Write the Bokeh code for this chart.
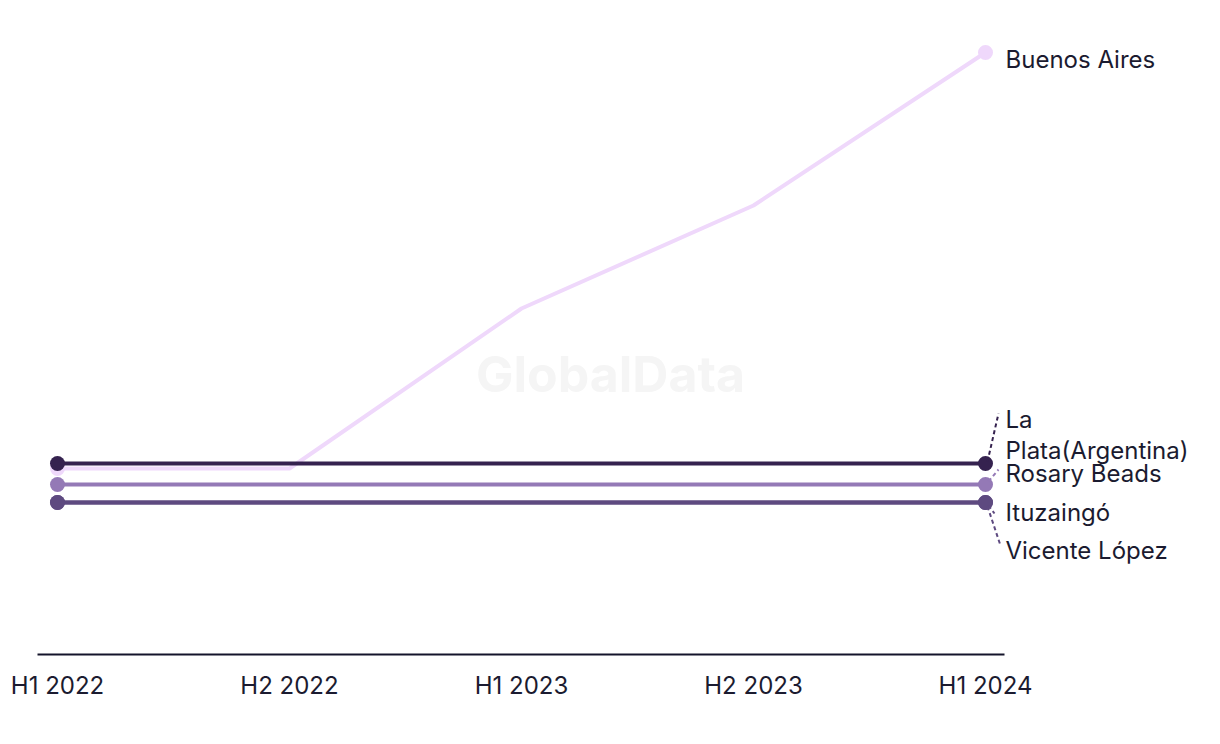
from bokeh.plotting import figure
from bokeh.models import Range1d, FixedTicker, Label
from bokeh.embed import file_html
from bokeh.resources import INLINE

periods = ["H1 2022", "H2 2022", "H1 2023", "H2 2023", "H1 2024"]
buenos_aires = [18.6, 18.6, 34.6, 44.9, 60.2]
la_plata = [19.1, 19.1, 19.1, 19.1, 19.1]
rosary_beads = [17.0, 17.0, 17.0, 17.0, 17.0]
ituzaingo = [15.2, 15.2, 15.2, 15.2, 15.2]
vicente_lopez = [15.2, 15.2, 15.2, 15.2, 15.2]

series = [
    ("Buenos Aires", buenos_aires, "#EFD8FB"),
    ("Vicente López", vicente_lopez, "#5E4A80"),
    ("Ituzaingó", ituzaingo, "#5E4A80"),
    ("Rosary Beads", rosary_beads, "#9479B6"),
    ("La\nPlata(Argentina)", la_plata, "#35224F"),
]

FONT = "Inter"
TXT = "#1B1B30"
XS = 232.0   # px per x unit
YS = 10.0    # px per y unit
X0 = -20 / XS

p = figure(width=1220, height=744, output_backend="svg", toolbar_location=None,
           x_range=Range1d(X0, X0 + 1183 / XS), y_range=Range1d(0, 63.4),
           min_border_left=37, min_border_right=0, min_border_top=20, min_border_bottom=90)
p.outline_line_color = None
p.grid.visible = False
p.yaxis.visible = False
p.background_fill_color = "white"
p.border_fill_color = "white"

xs = list(range(len(periods)))
xa = p.xaxis[0]
xa.ticker = FixedTicker(ticks=xs)
xa.bounds = (X0, X0 + 967 / XS)
xa.major_label_overrides = {i: s for i, s in enumerate(periods)}
xa.axis_line_color = "#14142B"
xa.axis_line_width = 2
xa.major_tick_line_color = None
xa.minor_tick_line_color = None
xa.major_tick_out = 0
xa.major_tick_in = 0
xa.major_label_standoff = 16
xa.major_label_text_font = FONT
xa.major_label_text_font_size = "24px"
xa.major_label_text_color = TXT

# watermark
p.add_layout(Label(x=2 + 89 / XS, y=28.1, text="GlobalData", text_align="center",
                   text_baseline="middle", text_font=FONT, text_font_style="bold",
                   text_font_size="50px", text_color="#F5F5F5"))

for name, vals, col in series:
    p.line(xs, vals, line_color=col, line_width=4)
    p.scatter(xs[::len(xs) - 1], [vals[0], vals[-1]], size=15, fill_color=col, line_color=None)

last = xs[-1]

def seg(v, dx0, dy0, dx1, dy1, col):
    p.segment(x0=[last + dx0 / XS], y0=[v - dy0 / YS], x1=[last + dx1 / XS], y1=[v - dy1 / YS],
              line_color=col, line_width=2, line_dash="4 3")

seg(la_plata[-1], 2, -2, 13, -50, "#35224F")
seg(rosary_beads[-1], 3, -3, 13, -15, "#9479B6")
seg(ituzaingo[-1], 3, 3, 9, 11, "#5E4A80")
seg(vicente_lopez[-1], 2, 4, 15, 43, "#5E4A80")

label_offsets = {
    "Buenos Aires": -6.5,
    "La\nPlata(Argentina)": 28.5,
    "Rosary Beads": 11.5,
    "Ituzaingó": -9.5,
    "Vicente López": -47.5,
}
for name, vals, col in series:
    p.add_layout(Label(x=last, y=vals[-1], x_offset=20, y_offset=label_offsets[name], text=name,
                       text_align="left", text_baseline="middle", text_font=FONT,
                       text_font_size="24px", text_color=TXT, text_line_height=1.08))

open("out.html", "w").write(file_html(p, INLINE))
